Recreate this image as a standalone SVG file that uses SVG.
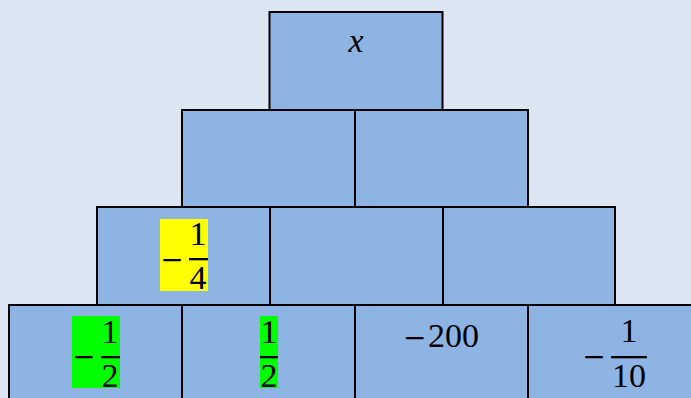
<svg xmlns="http://www.w3.org/2000/svg" width="691" height="398" viewBox="0 0 691 398">
<style>
.box{fill:#8eb4e3;stroke:#000;stroke-width:2}
.t{font-family:"Liberation Serif","DejaVu Serif",serif;font-size:34px;fill:#000;text-anchor:middle}
.m{font-family:"DejaVu Serif","Liberation Serif",serif;font-size:28px}
.i{font-style:italic}
.bar{fill:#000}
</style>
<rect width="691" height="398" fill="#dce6f2"/>
<g id="top"><rect class="box" x="269.5" y="12" width="173" height="98"/><text class="t i" x="356" y="52">x</text></g>
<g id="r2a"><rect class="box" x="182" y="110" width="173" height="97"/></g>
<g id="r2b"><rect class="box" x="355" y="110" width="173" height="97"/></g>
<g id="r3a"><rect class="box" x="97" y="207" width="173" height="98"/>
<rect x="160" y="219" width="48" height="72" fill="#ffff00"/>
<text class="t m" x="172" y="269">−</text>
<rect class="bar" x="189" y="258" width="19" height="2.3"/>
<text class="t" x="198" y="245">1</text><text class="t" x="198" y="289">4</text></g>
<g id="r3b"><rect class="box" x="270" y="207" width="173" height="98"/></g>
<g id="r3c"><rect class="box" x="443" y="207" width="172" height="98"/></g>
<g id="r4a"><rect class="box" x="9" y="305" width="173" height="100"/>
<rect x="72" y="316" width="48" height="72" fill="#00ff00"/>
<text class="t m" x="84" y="366">−</text>
<rect class="bar" x="101" y="356" width="19" height="2.3"/>
<text class="t" x="110" y="343">1</text><text class="t" x="110" y="387">2</text></g>
<g id="r4b"><rect class="box" x="182" y="305" width="173" height="100"/>
<rect x="260" y="316" width="18" height="72" fill="#00ff00"/>
<rect class="bar" x="260" y="356" width="18" height="2.3"/>
<text class="t" x="269" y="343">1</text><text class="t" x="269" y="387">2</text></g>
<g id="r4c"><rect class="box" x="355" y="305" width="173" height="100"/>
<text class="t" style="text-anchor:start" y="347"><tspan class="m" x="403">−</tspan><tspan x="428">200</tspan></text></g>
<g id="r4d"><rect class="box" x="528" y="305" width="175" height="100"/>
<text class="t m" x="594" y="366">−</text>
<rect class="bar" x="611" y="356" width="36" height="2.3"/>
<text class="t" x="629" y="342">1</text><text class="t" x="629" y="387">10</text></g>
</svg>
